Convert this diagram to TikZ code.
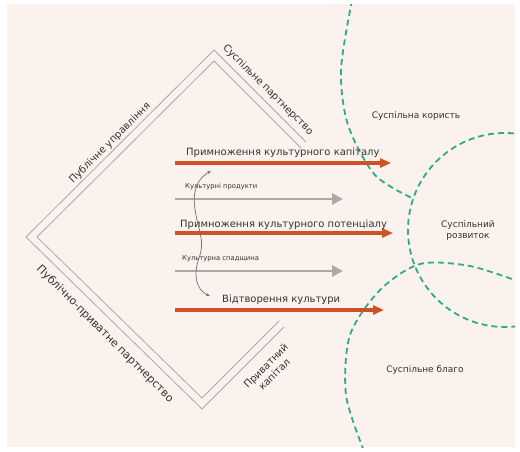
\documentclass[tikz,border=0pt]{standalone}
\usepackage{fontspec}
\setmainfont{DejaVu Sans}
\usetikzlibrary{arrows.meta}
\definecolor{paper}{HTML}{FBF2EE}
\definecolor{rust}{HTML}{D05127}
\definecolor{ash}{HTML}{ABA8A6}
\definecolor{sea}{HTML}{2EAD7E}
\definecolor{rim}{HTML}{ADA8A4}
\definecolor{ink}{HTML}{333333}

\begin{document}
\begin{tikzpicture}[x=1pt,y=-1pt,
    flow/.style={draw=rust,line width=3.2pt,-{Triangle[length=11pt,width=9pt]}},
    side/.style={draw=ash,line width=2.8pt,-{Triangle[length=11pt,width=11pt]}},
    zone/.style={draw=sea,line width=1.8pt,dash pattern=on 6pt off 4pt},
    wall/.style={draw=rim,line width=0.8pt},
    lbl/.style={text=ink,font=\fontsize{10}{12}\selectfont,inner sep=0pt},
    note/.style={text=ink,font=\fontsize{6.8}{8}\selectfont,inner sep=0pt},
    area/.style={text=ink,font=\fontsize{9}{11}\selectfont,inner sep=0pt,align=center}]
  \useasboundingbox (0,0) rectangle (520,451);
  \fill[paper] (7,4) rectangle (515,447);

  % diamond, open on the right
  \draw[wall] (306,142) -- (214,50) -- (26,237) -- (202,409) -- (284,327);
  \draw[wall] (301,148) -- (214,61) -- (37,237) -- (202,398) -- (279,321);
  \node[lbl,rotate=45] (pub) at (110,143) {Публічне управління};
  \node[lbl,rotate=-45,font=\fontsize{11}{13}\selectfont] (ppp) at (105,334) {Публічно-приватне партнерство};
  \node[lbl,rotate=-45] (sus) at (268,90) {Суспільне партнерство};
  \node[lbl,rotate=45,align=center] (cap) at (270,370) {Приватний\\капітал};

  % society zones
  \begin{scope}
    \clip (7,4) rectangle (515,447);
    \draw[zone] plot[smooth] coordinates {(352,0) (341,70) (348,125) (375,175) (414,199)};
    \draw[zone] (505,230) circle[radius=97];
    \draw[zone] plot[smooth] coordinates {(364,451) (346,395) (350,335) (380,290) (420,264) (470,266) (520,282)};
  \end{scope}
  \node[area] (ben) at (416,116) {Суспільна користь};
  \node[area] (dev) at (468,231) {Суспільний\\розвиток};
  \node[area] (gud) at (425,370) {Суспільне благо};

  % flows
  \coordinate (a1) at (175,163); \coordinate (b1) at (391,163);
  \coordinate (a2) at (175,199); \coordinate (b2) at (343,199);
  \coordinate (a3) at (175,233); \coordinate (b3) at (393,233);
  \coordinate (a4) at (175,271); \coordinate (b4) at (343,271);
  \coordinate (a5) at (175,310); \coordinate (b5) at (384,310);
  \path (a2) edge[side] (b2)
        (a4) edge[side] (b4)
        (a1) edge[flow] (b1)
        (a3) edge[flow] (b3)
        (a5) edge[flow] (b5);
  \node[lbl,anchor=base west] (l1) at (186,155) {Примноження культурного капіталу};
  \node[lbl,anchor=base west] (l2) at (180,227) {Примноження культурного потенціалу};
  \node[lbl,anchor=base west] (l3) at (222,302) {Відтворення культури};
  \node[note,anchor=base west] (n1) at (185,188) {Культурні продукти};
  \node[note,anchor=base west] (n2) at (182,260) {Культурна спадщина};

  \coordinate (c0) at (211,171); \coordinate (c1) at (210,296);
  \draw[draw=ink!70,line width=0.7pt,{Stealth[length=4pt]}-{Stealth[length=4pt]}]
    (c0) .. controls (192,182) and (193,200) .. (196,215)
         .. controls (199,232) and (205,242) .. (199,258)
         .. controls (193,275) and (196,290) .. (c1);
\end{tikzpicture}
\end{document}
